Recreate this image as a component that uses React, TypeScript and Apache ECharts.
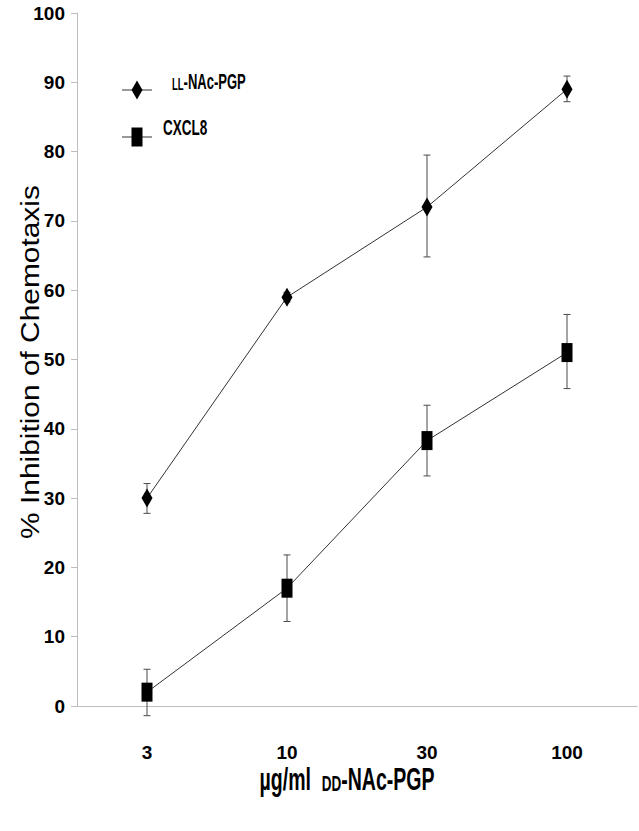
import React, { useEffect, useRef } from "react";
import * as echarts from "echarts";

const categories = ["3", "10", "30", "100"];
const llValues = [30, 59, 72, 89];
const llLow = [27.8, 58.3, 64.8, 87.2];
const llHigh = [32.1, 59.7, 79.5, 90.9];
const cxValues = [2, 17, 38.3, 51];
const cxLow = [-1.4, 12.2, 33.2, 45.8];
const cxHigh = [5.3, 21.8, 43.4, 56.5];
const yTicks = { min: 0, max: 100, interval: 10 };

const SANS = "'Liberation Sans', Arial, Helvetica, sans-serif";
const STRETCH = 1.65;

function errData(lo: number[], hi: number[]) {
  return lo.map((l, i) => [i, l, hi[i]]);
}

function errRender(params: any, api: any) {
  const i = api.value(0);
  const lo = api.coord([i, api.value(1)]);
  const hi = api.coord([i, api.value(2)]);
  const w = 3.5;
  const style = { stroke: "#4a4a4a", lineWidth: 1 };
  return {
    type: "group",
    children: [
      { type: "line", shape: { x1: lo[0], y1: lo[1], x2: hi[0], y2: hi[1] }, style },
      { type: "line", shape: { x1: lo[0] - w, y1: lo[1], x2: lo[0] + w, y2: lo[1] }, style },
      { type: "line", shape: { x1: hi[0] - w, y1: hi[1], x2: hi[0] + w, y2: hi[1] }, style },
    ],
  };
}

export default function App() {
  const ref = useRef<HTMLDivElement>(null);
  useEffect(() => {
    document.body.style.margin = "0";
    const chart = echarts.init(ref.current!, null, { renderer: "svg" });
    chart.setOption({
      animation: false,
      backgroundColor: "#ffffff",
      grid: { left: 77, top: 13, right: 2, bottom: 125, containLabel: false },
      xAxis: {
        type: "category",
        data: categories,
        boundaryGap: true,
        axisLine: { lineStyle: { color: "#bdbdbd", width: 1 } },
        axisTick: { alignWithLabel: true, length: 10, lineStyle: { color: "#bdbdbd" } },
        axisLabel: {
          margin: 37,
          color: "#000",
          fontFamily: SANS,
          fontWeight: "bold",
          fontSize: 19,
        },
        splitLine: { show: false },
      },
      yAxis: {
        type: "value",
        min: yTicks.min,
        max: yTicks.max,
        interval: yTicks.interval,
        axisLine: { show: true, lineStyle: { color: "#bdbdbd", width: 1 } },
        axisTick: { show: true, length: 6, lineStyle: { color: "#bdbdbd" } },
        axisLabel: {
          margin: 12,
          color: "#000",
          fontFamily: SANS,
          fontWeight: "bold",
          fontSize: 19,
        },
        splitLine: { show: false },
      },
      series: [
        {
          name: "LL-NAc-PGP err",
          type: "custom",
          renderItem: errRender,
          data: errData(llLow, llHigh),
          encode: { x: 0, y: [1, 2] },
          z: 1,
          clip: false,
        },
        {
          name: "CXCL8 err",
          type: "custom",
          renderItem: errRender,
          data: errData(cxLow, cxHigh),
          encode: { x: 0, y: [1, 2] },
          z: 1,
          clip: false,
        },
        {
          name: "LL-NAc-PGP",
          type: "line",
          data: llValues,
          symbol: "diamond",
          symbolSize: [11, 19],
          lineStyle: { color: "#333", width: 1 },
          itemStyle: { color: "#000" },
          z: 3,
        },
        {
          name: "CXCL8",
          type: "line",
          data: cxValues,
          symbol: "rect",
          symbolSize: [11, 19],
          lineStyle: { color: "#333", width: 1 },
          itemStyle: { color: "#000" },
          z: 3,
        },
      ],
      graphic: [
        {
          type: "text",
          x: 30,
          y: 362,
          rotation: Math.PI / 2,
          scaleX: 1.15,
          style: {
            text: "% Inhibition of Chemotaxis",
            fontFamily: SANS,
            fontSize: 26,
            fill: "#000",
            align: "center",
            verticalAlign: "middle",
          },
        },
        {
          type: "text",
          x: 347,
          y: 777,
          scaleY: STRETCH,
          style: {
            text: "{a|µg/ml  }{b|DD}{a|-NAc-PGP}",
            fill: "#000",
            align: "center",
            verticalAlign: "middle",
            rich: {
              a: { fontFamily: SANS, fontWeight: "bold", fontSize: 19.5, verticalAlign: "bottom", lineHeight: 22 },
              b: { fontFamily: SANS, fontWeight: "bold", fontSize: 13.5, verticalAlign: "bottom", lineHeight: 22 },
            },
          },
        },
        { type: "line", shape: { x1: 122, y1: 90, x2: 152, y2: 90 }, style: { stroke: "#333", lineWidth: 1 } },
        {
          type: "polygon",
          shape: { points: [[137, 80.5], [142.5, 90], [137, 99.5], [131.5, 90]] },
          style: { fill: "#000" },
        },
        {
          type: "text",
          x: 172,
          y: 80,
          scaleY: STRETCH,
          style: {
            text: "{s|LL}{n|-NAc-PGP}",
            fill: "#000",
            align: "left",
            verticalAlign: "middle",
            rich: {
              s: { fontFamily: SANS, fontWeight: "bold", fontSize: 9.5, verticalAlign: "bottom", lineHeight: 15 },
              n: { fontFamily: SANS, fontWeight: "bold", fontSize: 13, verticalAlign: "bottom", lineHeight: 15 },
            },
          },
        },
        { type: "line", shape: { x1: 122, y1: 137, x2: 152, y2: 137 }, style: { stroke: "#333", lineWidth: 1 } },
        { type: "rect", shape: { x: 131.5, y: 127.5, width: 11, height: 19 }, style: { fill: "#000" } },
        {
          type: "text",
          x: 163,
          y: 127,
          scaleY: STRETCH,
          style: {
            text: "CXCL8",
            fill: "#000",
            fontFamily: SANS,
            fontWeight: "bold",
            fontSize: 13.5,
            align: "left",
            verticalAlign: "middle",
          },
        },
      ],
    });
    return () => chart.dispose();
  }, []);
  return (
    <div
      ref={ref}
      style={{ position: "fixed", left: 0, top: 0, width: 639, height: 831, background: "#fff" }}
    />
  );
}
